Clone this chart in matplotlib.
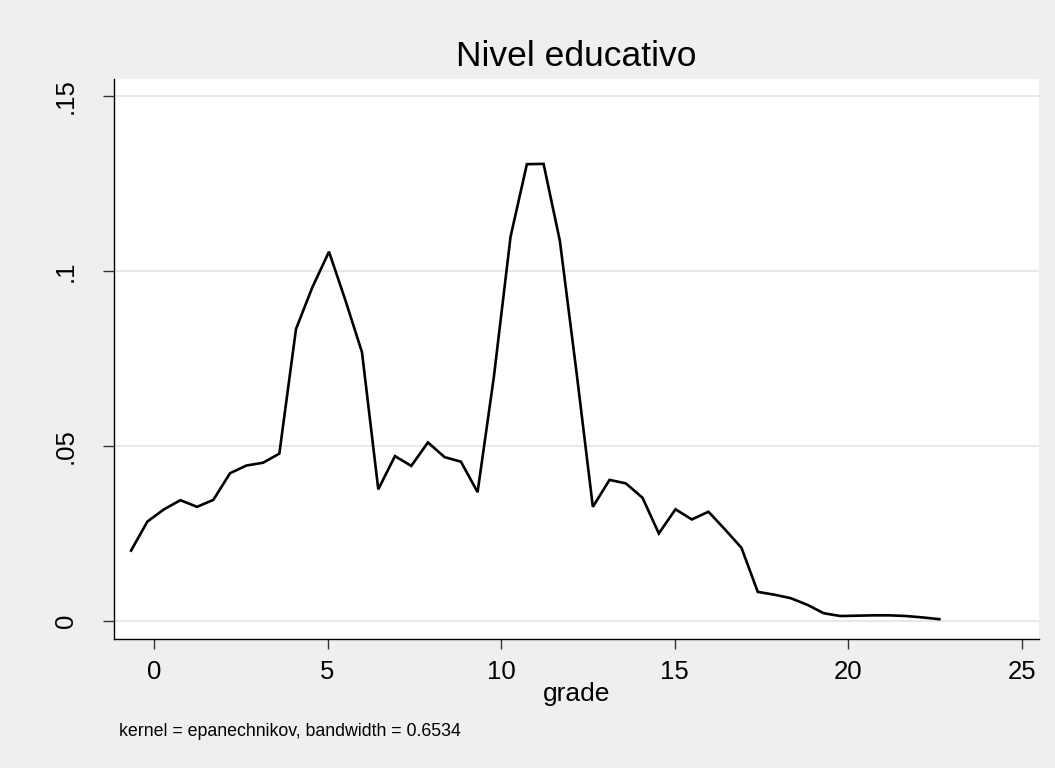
import matplotlib
matplotlib.use("Agg")
import matplotlib.pyplot as plt

plt.rcParams['font.family'] = ['Liberation Sans', 'DejaVu Sans']

# Kernel density estimate of years of schooling (50 evaluation points)
grade = [-0.66, -0.19, 0.29, 0.76, 1.24, 1.71, 2.19, 2.66, 3.14, 3.61,
         4.09, 4.56, 5.04, 5.51, 5.99, 6.46, 6.94, 7.41, 7.89, 8.37,
         8.84, 9.32, 9.79, 10.27, 10.74, 11.22, 11.69, 12.17, 12.64, 13.12,
         13.59, 14.07, 14.54, 15.02, 15.49, 15.97, 16.44, 16.92, 17.39, 17.87,
         18.34, 18.82, 19.29, 19.77, 20.24, 20.72, 21.19, 21.67, 22.14, 22.62]
density = [0.0202, 0.0285, 0.0320, 0.0346, 0.0327, 0.0347, 0.0423, 0.0445, 0.0453, 0.0479,
           0.0835, 0.0954, 0.1056, 0.0918, 0.0769, 0.0377, 0.0472, 0.0444, 0.0511, 0.0469,
           0.0456, 0.0369, 0.0699, 0.1099, 0.1306, 0.1307, 0.1087, 0.0711, 0.0327, 0.0404,
           0.0394, 0.0353, 0.0251, 0.0320, 0.0291, 0.0313, 0.0263, 0.0210, 0.0084, 0.0076,
           0.0066, 0.0047, 0.0023, 0.0015, 0.0016, 0.0017, 0.0017, 0.0015, 0.0011, 0.0006]

x_ticks = [0, 5, 10, 15, 20, 25]
y_ticks = [0, 0.05, 0.10, 0.15]
y_tick_labels = ['0', '.05', '.1', '.15']

title = 'Nivel educativo'
x_label = 'grade'
note = 'kernel = epanechnikov, bandwidth = 0.6534'

W, H = 1055, 768
fig = plt.figure(figsize=(W / 100, H / 100), dpi=100)
fig.patch.set_facecolor('#efefef')

ax = fig.add_axes([114 / W, (H - 639) / H, (1039 - 114) / W, (639 - 79) / H])
ax.set_facecolor('white')

ax.plot(grade, density, color='black', lw=1.9, solid_joinstyle='miter', zorder=3)

ax.set_xlim(-1.152, 25.49)
ax.set_ylim(-0.00506, 0.15494)

ax.set_xticks(x_ticks)
ax.set_xticklabels([str(t) for t in x_ticks], fontsize=18.5)
ax.set_yticks(y_ticks)
ax.set_yticklabels(y_tick_labels, fontsize=18.5, rotation=90, va='center')

ax.grid(axis='y', color='#e8e8e8', lw=1.4, zorder=0)
ax.set_axisbelow(True)

for side in ('top', 'right'):
    ax.spines[side].set_visible(False)
for side in ('left', 'bottom'):
    ax.spines[side].set_color('black')
    ax.spines[side].set_linewidth(1.0)

ax.tick_params(axis='x', direction='out', length=7, width=1.0, color='#333333', pad=8)
ax.tick_params(axis='y', direction='out', length=8, width=1.0, color='#333333', pad=18)

ax.set_title(title, fontsize=25.5, pad=9)
ax.set_xlabel(x_label, fontsize=19, labelpad=-1)

fig.text(119 / W, 1 - 731 / H, note, fontsize=12.75, ha='left', va='center')

fig.savefig('out.png', dpi=100, facecolor=fig.get_facecolor())
